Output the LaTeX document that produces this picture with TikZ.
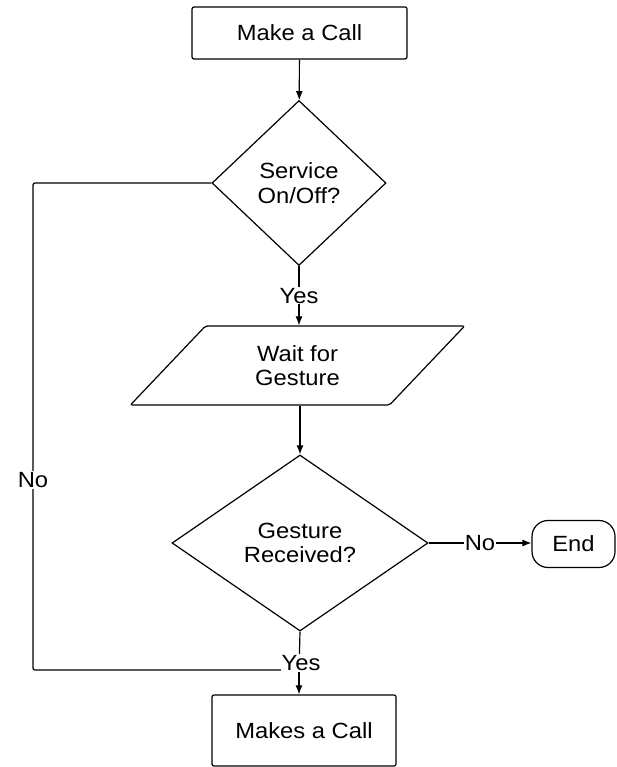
\documentclass[tikz,border=0pt]{standalone}
\usepackage{fontspec}
\setmainfont{Liberation Sans}[FakeStretch=1.08]
\usetikzlibrary{shapes.geometric,arrows.meta}
\begin{document}
\begin{tikzpicture}[x=1pt,y=1pt,
  every node/.style={font=\fontsize{22}{24.5}\selectfont, align=center, inner sep=0pt},
  box/.style={draw, line width=1.2pt, rounded corners=2pt},
  dia/.style={draw, diamond, line width=1.2pt},
  conn/.style={line width=1.2pt},
  arr/.style={conn, -{Latex[length=9pt,width=7pt]}},
  lbl/.style={fill=white, inner sep=1pt}]
\useasboundingbox (0,0) rectangle (617,-767);
\node[box, minimum width=215, minimum height=52] (call1) at (299.5,-33) {Make a Call};
\node[dia, minimum width=174, minimum height=165] (svc) at (299,-183) {Service\\On/Off?};
\node[box, trapezium, trapezium left angle=49.7, trapezium right angle=130.3, trapezium stretches=true, minimum width=335, minimum height=79] (wait) at (297.5,-365.5) {Wait for\\Gesture};
\node[dia, minimum width=256, minimum height=176] (gest) at (300,-543) {Gesture\\Received?};
\node[draw, line width=1.2pt, rounded corners=16pt, minimum width=83, minimum height=47] (endn) at (573.5,-544) {End};
\node[box, minimum width=184, minimum height=71] (call2) at (304,-730.5) {Makes a Call};
\coordinate (j) at (299,-670);
\coordinate (lft) at (33,-670);
\draw[arr] (call1) -- (svc);
\draw[arr] (svc.south) -- node[lbl, pos=0.5] {Yes} (wait.north -| svc.south);
\draw[arr] (wait.south -| gest.north) -- (gest.north);
\draw[arr] (gest.east) -- node[lbl] {No} (gest.east -| endn.west);
\draw[conn, rounded corners=2pt] (svc.west) -| (lft) -- (j);
\node[lbl] (nolbl) at (33,-480) {No};
\draw[conn] (gest.south) -- (j);
\draw[arr] (j) -- (j |- call2.north);
\node[lbl] (yes2) at (301,-663) {Yes};
\end{tikzpicture}
\end{document}
